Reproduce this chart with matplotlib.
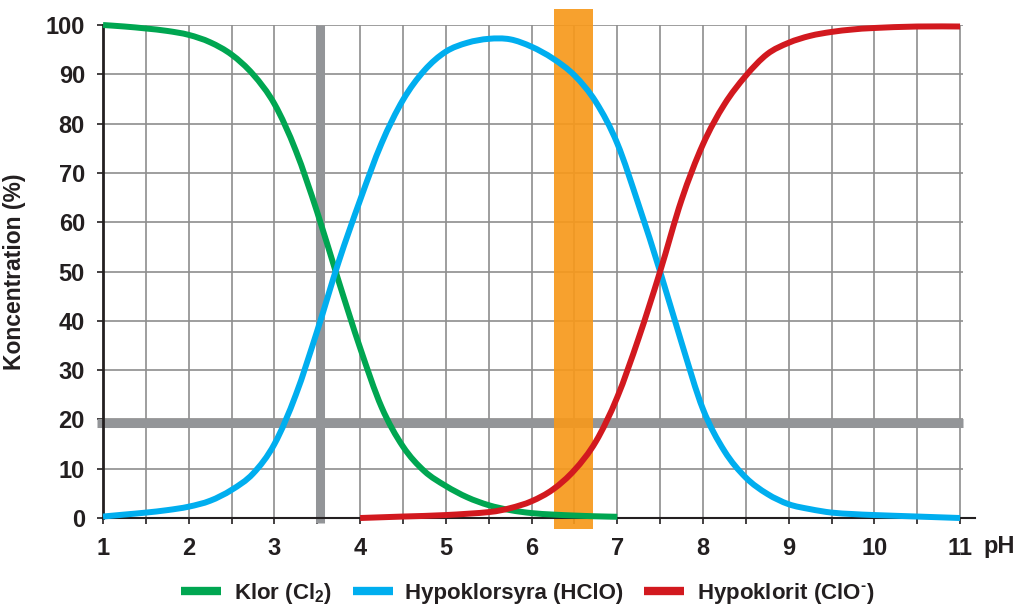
import matplotlib
matplotlib.use("Agg")
import matplotlib.pyplot as plt
from matplotlib.path import Path
from matplotlib.patches import PathPatch
from matplotlib.lines import Line2D
import numpy as np

plt.rcParams['font.family'] = ['Liberation Sans', 'DejaVu Sans']
plt.rcParams['font.weight'] = 'bold'
plt.rcParams['mathtext.fontset'] = 'custom'
plt.rcParams['mathtext.rm'] = 'Liberation Sans:bold'
plt.rcParams['mathtext.it'] = 'Liberation Sans:bold'
plt.rcParams['mathtext.bf'] = 'Liberation Sans:bold'

# ---- data ----
ph_klor = [1.0, 1.25, 1.5, 1.75, 2.0, 2.25, 2.5, 2.75, 3.0, 3.25, 3.5, 3.75, 4.0,
           4.25, 4.5, 4.75, 5.0, 5.25, 5.5, 5.75, 6.0, 6.25, 6.5, 6.75, 7.0]
klor = [100, 99.7, 99.3, 98.8, 98.0, 96.5, 94.0, 90.0, 84.0, 74.5, 62.0, 48.0, 34.5,
        22.5, 14.5, 9.5, 6.5, 4.2, 2.6, 1.6, 1.0, 0.7, 0.5, 0.35, 0.25]

ph_hclo = [1.0, 1.25, 1.5, 1.75, 2.0, 2.25, 2.5, 2.75, 3.0, 3.25, 3.5, 3.75, 4.0,
           4.25, 4.5, 4.75, 5.0, 5.25, 5.5, 5.75, 6.0, 6.25, 6.5, 6.75, 7.0,
           7.25, 7.5, 7.75, 8.0, 8.25, 8.5, 8.75, 9.0, 9.25, 9.5, 9.75, 10.0,
           10.5, 11.0]
hclo = [0.3, 0.7, 1.1, 1.6, 2.3, 3.5, 5.7, 9.0, 15.0, 25.0, 38.0, 52.0, 64.5,
        76.0, 84.8, 90.8, 94.6, 96.4, 97.2, 97.1, 95.6, 93.2, 89.8, 84.4, 76.0,
        63.5, 50.0, 35.6, 22.1, 13.6, 8.2, 4.9, 2.8, 1.8, 1.1, 0.8, 0.6,
        0.3, 0.0]

ph_clo = [4.0, 4.5, 5.0, 5.5, 5.75, 6.0, 6.25, 6.5, 6.75, 7.0, 7.25, 7.5, 7.75,
          8.0, 8.25, 8.5, 8.75, 9.0, 9.25, 9.5, 9.75, 10.0, 10.5, 11.0]
clo = [0.0, 0.3, 0.6, 1.2, 2.0, 3.4, 5.8, 9.7, 15.5, 24.5, 36.5, 50.0, 64.5,
       75.8, 83.9, 89.7, 94.1, 96.4, 97.8, 98.6, 99.1, 99.4, 99.7, 99.7]

labels = ['Klor (Cl$_2$)', 'Hypoklorsyra (HClO)', 'Hypoklorit (ClO$^{\u2010}$)']
colors = ['#00A651', '#00AEEF', '#D2191F']

ref_ph = 3.53          # grey vertical marker
ref_conc = 19.3        # grey horizontal marker
band_ph = (6.26, 6.72) # orange band

x_ticks = [1, 2, 3, 4, 5, 6, 7, 8, 9, 10, 11]
y_ticks = [0, 10, 20, 30, 40, 50, 60, 70, 80, 90, 100]


def smooth_path(xs, ys):
    """Catmull-Rom curve through the given points as a cubic Bezier path."""
    p = np.column_stack([xs, ys]).astype(float)
    ext = np.vstack([p[0], p, p[-1]])
    verts = [p[0]]
    codes = [Path.MOVETO]
    for i in range(1, len(ext) - 2):
        p0, p1, p2, p3 = ext[i - 1], ext[i], ext[i + 1], ext[i + 2]
        c1 = p1 + (p2 - p0) / 6.0
        c2 = p2 - (p3 - p1) / 6.0
        verts += [c1, c2, p2]
        codes += [Path.CURVE4] * 3
    return Path(verts, codes)


# ---- figure ----
fig = plt.figure(figsize=(10.15, 6.06), dpi=100)
ax = fig.add_axes([0.1015, 0.1452, 0.8469, 0.8135])
ax.set_xlim(1, 11.03)
ax.set_ylim(0, 100)

text_col = '#231F20'
grid_col = '#8E8E8E'
grey = '#939598'

ax.set_xticks(x_ticks)
ax.set_xticks(np.arange(1.5, 11, 1.0), minor=True)
ax.set_yticks(y_ticks)
ax.grid(True, which='both', axis='x', color=grid_col, lw=1.2, zorder=0)
ax.grid(True, which='major', axis='y', color=grid_col, lw=1.2, zorder=0)
ax.set_axisbelow(True)

for s in ['top', 'right']:
    ax.spines[s].set_visible(False)
ax.spines['left'].set_color(text_col)
ax.spines['left'].set_linewidth(2.0)
ax.spines['bottom'].set_color(text_col)
ax.spines['bottom'].set_linewidth(1.5)
ax.spines['bottom'].set_bounds(1, 11.17)

ax.tick_params(axis='both', which='both', direction='out', color=text_col,
               width=1.2, length=4, labelcolor=text_col)
ax.tick_params(axis='x', which='major', labelsize=17, pad=10)
ax.tick_params(axis='y', which='major', labelsize=17, pad=9)

ax.set_ylabel('Koncentration (%)', fontsize=16.5, color=text_col, labelpad=14,
              fontweight='bold')
ax.text(1.024, -0.058, 'pH', transform=ax.transAxes, fontsize=17,
        color=text_col, ha='left', va='center', fontweight='bold')

# grey reference lines
ax.plot([ref_ph, ref_ph], [-1.0, 100], color=grey, lw=6.5, zorder=1.5,
        clip_on=False, solid_capstyle='butt')
ax.plot([0.93, 11.03], [ref_conc, ref_conc], color=grey, lw=6.5, zorder=1.5,
        clip_on=False, solid_capstyle='butt')

# orange band
ax.axvspan(band_ph[0], band_ph[1], ymin=-0.022, ymax=1.032, color='#F7991C',
           alpha=0.92, zorder=2, clip_on=False, lw=0)

# curves
handles = []
for xs, ys, c, lab in zip([ph_klor, ph_hclo, ph_clo], [klor, hclo, clo], colors, labels):
    patch = PathPatch(smooth_path(xs, ys), facecolor='none', edgecolor=c,
                      lw=4.3, zorder=3, clip_on=False, capstyle='butt',
                      joinstyle='round')
    ax.add_patch(patch)
    handles.append(Line2D([], [], color=c, lw=6, label=lab,
                          solid_capstyle='butt'))

leg = fig.legend(handles=handles, labels=labels, loc='center',
                 bbox_to_anchor=(0.52, 0.021), ncol=3, frameon=False,
                 fontsize=16, handlelength=1.8, handletextpad=0.55,
                 columnspacing=0.95, labelcolor=text_col)

fig.savefig('out.png', dpi=100)
